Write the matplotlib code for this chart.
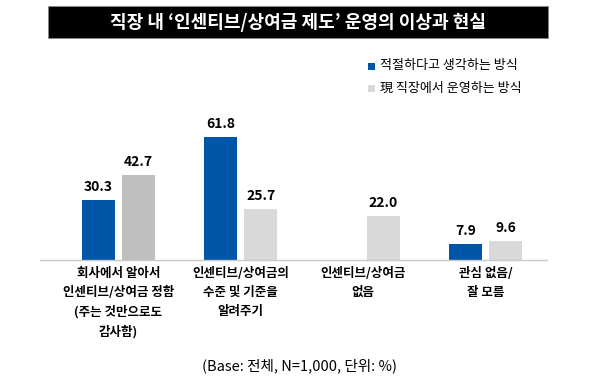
import matplotlib
matplotlib.use('Agg')
import matplotlib.pyplot as plt
from matplotlib.patches import Rectangle

plt.rcParams['font.family'] = ['Noto Sans CJK KR', 'DejaVu Sans']

categories = ['회사에서 알아서\n인센티브/상여금 정함\n(주는 것만으로도\n감사함)',
              '인센티브/상여금의\n수준 및 기준을\n알려주기',
              '인센티브/상여금\n없음',
              '관심 없음/\n잘 모름']
ideal = [30.3, 61.8, None, 7.9]
current = [42.7, 25.7, 22.0, 9.6]
current_colors = ['#BFBFBF', '#D9D9D9', '#D9D9D9', '#D9D9D9']
series_names = ['적절하다고 생각하는 방식', '現 직장에서 운영하는 방식']
title = "직장 내 ‘인센티브/상여금 제도’ 운영의 이상과 현실"
note = '(Base: 전체, N=1,000, 단위: %)'

blue = '#0055A6'
W, H = 600, 385

fig = plt.figure(figsize=(6, 3.85), dpi=100)

# axes placed in pixel terms: baseline at y=260, left 40, right 547
ax = fig.add_axes([40 / W, (H - 260) / H, 507 / W, 159.2 / H])
ax.set_xlim(-0.64, 3.5)
ax.set_ylim(0, 80)

bw = 0.27
off = 0.163
for i, (a, b) in enumerate(zip(ideal, current)):
    if a is not None:
        ax.bar(i - off, a, bw, color=blue)
        ax.text(i - off, a + 3, f'{a:.1f}', ha='center', va='bottom',
                fontsize=10, fontweight='bold')
    ax.bar(i + off, b, bw, color=current_colors[i])
    ax.text(i + off, b + 3, f'{b:.1f}', ha='center', va='bottom',
            fontsize=10, fontweight='bold')

for s in ['top', 'right', 'left']:
    ax.spines[s].set_visible(False)
ax.spines['bottom'].set_color('#C8C8C8')
ax.spines['bottom'].set_linewidth(1)
ax.set_yticks([])
ax.set_xticks(range(len(categories)))
ax.set_xticklabels(categories, fontsize=9, fontweight='bold', linespacing=1.6)
ax.tick_params(axis='x', length=0, pad=5)

# title box
fig.patches.append(Rectangle((48 / W, (H - 38) / H), 500 / W, 32 / H,
                             transform=fig.transFigure, facecolor='black',
                             edgecolor='#888888', linewidth=0.6))
fig.text(298 / W, (H - 22) / H, title, color='white', fontsize=13,
         fontweight='bold', ha='center', va='center')

# legend
leg_colors = [blue, '#D9D9D9']
for k, (name, c) in enumerate(zip(series_names, leg_colors)):
    y = 66 + k * 22
    fig.patches.append(Rectangle((368 / W, (H - y - 4) / H), 7 / W, 7 / H,
                                 transform=fig.transFigure, facecolor=c))
    fig.text(380 / W, (H - y) / H, name, fontsize=9.4, ha='left', va='center')

fig.text(300 / W, (H - 366) / H, note, fontsize=10.5, ha='center', va='center')

fig.savefig('out.png', dpi=100)
